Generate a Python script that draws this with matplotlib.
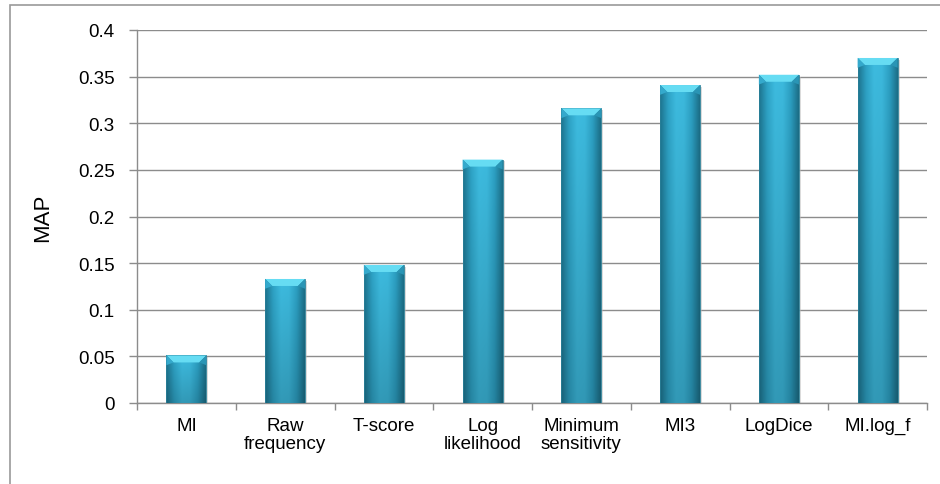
import numpy as np
import matplotlib
matplotlib.use("Agg")
import matplotlib.pyplot as plt
from matplotlib.patches import Rectangle, Polygon
from matplotlib.colors import LinearSegmentedColormap

# data
categories = ["MI", "Raw\nfrequency", "T-score", "Log\nlikelihood",
              "Minimum\nsensitivity", "MI3", "LogDice", "MI.log_f"]
map_values = [0.051, 0.133, 0.148, 0.261, 0.316, 0.341, 0.352, 0.370]
y_ticks = [0, 0.05, 0.1, 0.15, 0.2, 0.25, 0.3, 0.35, 0.4]
y_ticklabels = ["0", "0.05", "0.1", "0.15", "0.2", "0.25", "0.3", "0.35", "0.4"]

plt.rcParams['font.family'] = ['Liberation Sans', 'DejaVu Sans']

fig = plt.figure(figsize=(9.4, 4.85), dpi=100)
ax = fig.add_axes([137/940, 1 - 404/485, 790/940, 373/485])

x = np.arange(len(categories))
width = 0.405
ymax = 0.4

# horizontal gradient: dark edges, light middle
cmap = LinearSegmentedColormap.from_list("cyl", ["#1d7590", "#2ea3c6", "#3dbbdf", "#3cb9dd", "#2c9fc2", "#1c6f88"])
hgrad = cmap(np.linspace(0, 1, 64))[None, :, :3]
vshade = np.linspace(0.82, 1.0, 64)[:, None, None]  # darker at the bottom
img = np.clip(hgrad * vshade, 0, 1)

for xi, v in zip(x, map_values):
    x0, x1 = xi - width / 2, xi + width / 2
    # shadow
    ax.add_patch(Rectangle((x0 + 0.02, 0), width, v - 0.002, facecolor="#b8b8b8",
                           edgecolor="none", alpha=0.5, zorder=2))
    im = ax.imshow(img, extent=[x0, x1, 0, v], origin="lower", aspect="auto", zorder=3,
                   interpolation="bilinear")
    clip = Rectangle((x0, 0), width, v, transform=ax.transData, facecolor="none")
    im.set_clip_path(clip)
    ax.add_patch(Rectangle((x0, 0), width, v, facecolor="none", edgecolor="#2a7f98",
                           linewidth=0.6, zorder=4))
    # bevelled top cap
    cap = 0.0075
    inset = width * 0.18
    ax.add_patch(Polygon([(x0, v), (x1, v), (x1 - inset, v - cap), (x0 + inset, v - cap)],
                         closed=True, facecolor="#66dcf3", edgecolor="none", zorder=5))
    ax.add_patch(Polygon([(x0, v), (x0 + inset, v - cap), (x0, v - cap * 1.4)],
                         closed=True, facecolor="#34a9cc", edgecolor="none", zorder=5))
    ax.add_patch(Polygon([(x1, v), (x1 - inset, v - cap), (x1, v - cap * 1.4)],
                         closed=True, facecolor="#2a95b5", edgecolor="none", zorder=5))

ax.set_xlim(-0.5, len(categories) - 0.5)
ax.set_ylim(0, ymax)
ax.set_yticks(y_ticks)
ax.set_yticklabels(y_ticklabels)
ax.set_xticks(x)
ax.set_xticklabels(categories, linespacing=1.1)
ax.set_xticks(np.arange(-0.5, len(categories)), minor=True)

ax.yaxis.grid(True, color="#8c8c8c", linewidth=1.0, zorder=0)
ax.set_axisbelow(True)
for s in ["top", "right"]:
    ax.spines[s].set_visible(False)
for s in ["left", "bottom"]:
    ax.spines[s].set_color("#8c8c8c")
    ax.spines[s].set_linewidth(1.0)

ax.tick_params(axis="y", length=6, width=1, color="#8c8c8c", pad=10, labelsize=13.5)
ax.tick_params(axis="x", which="major", length=0, pad=10, labelsize=13.5)
ax.tick_params(axis="x", which="minor", length=5, width=1, color="#8c8c8c")
ax.set_ylabel("MAP", fontsize=16, labelpad=18)

# outer chart frame (only top/left visible in the reference)
fig.add_artist(Rectangle((9.5/940, -0.1), 1.2, 1.1 - 5.5/485, transform=fig.transFigure,
                         facecolor="none", edgecolor="#9a9a9a", linewidth=1.2))

fig.savefig("out.png", dpi=100)
